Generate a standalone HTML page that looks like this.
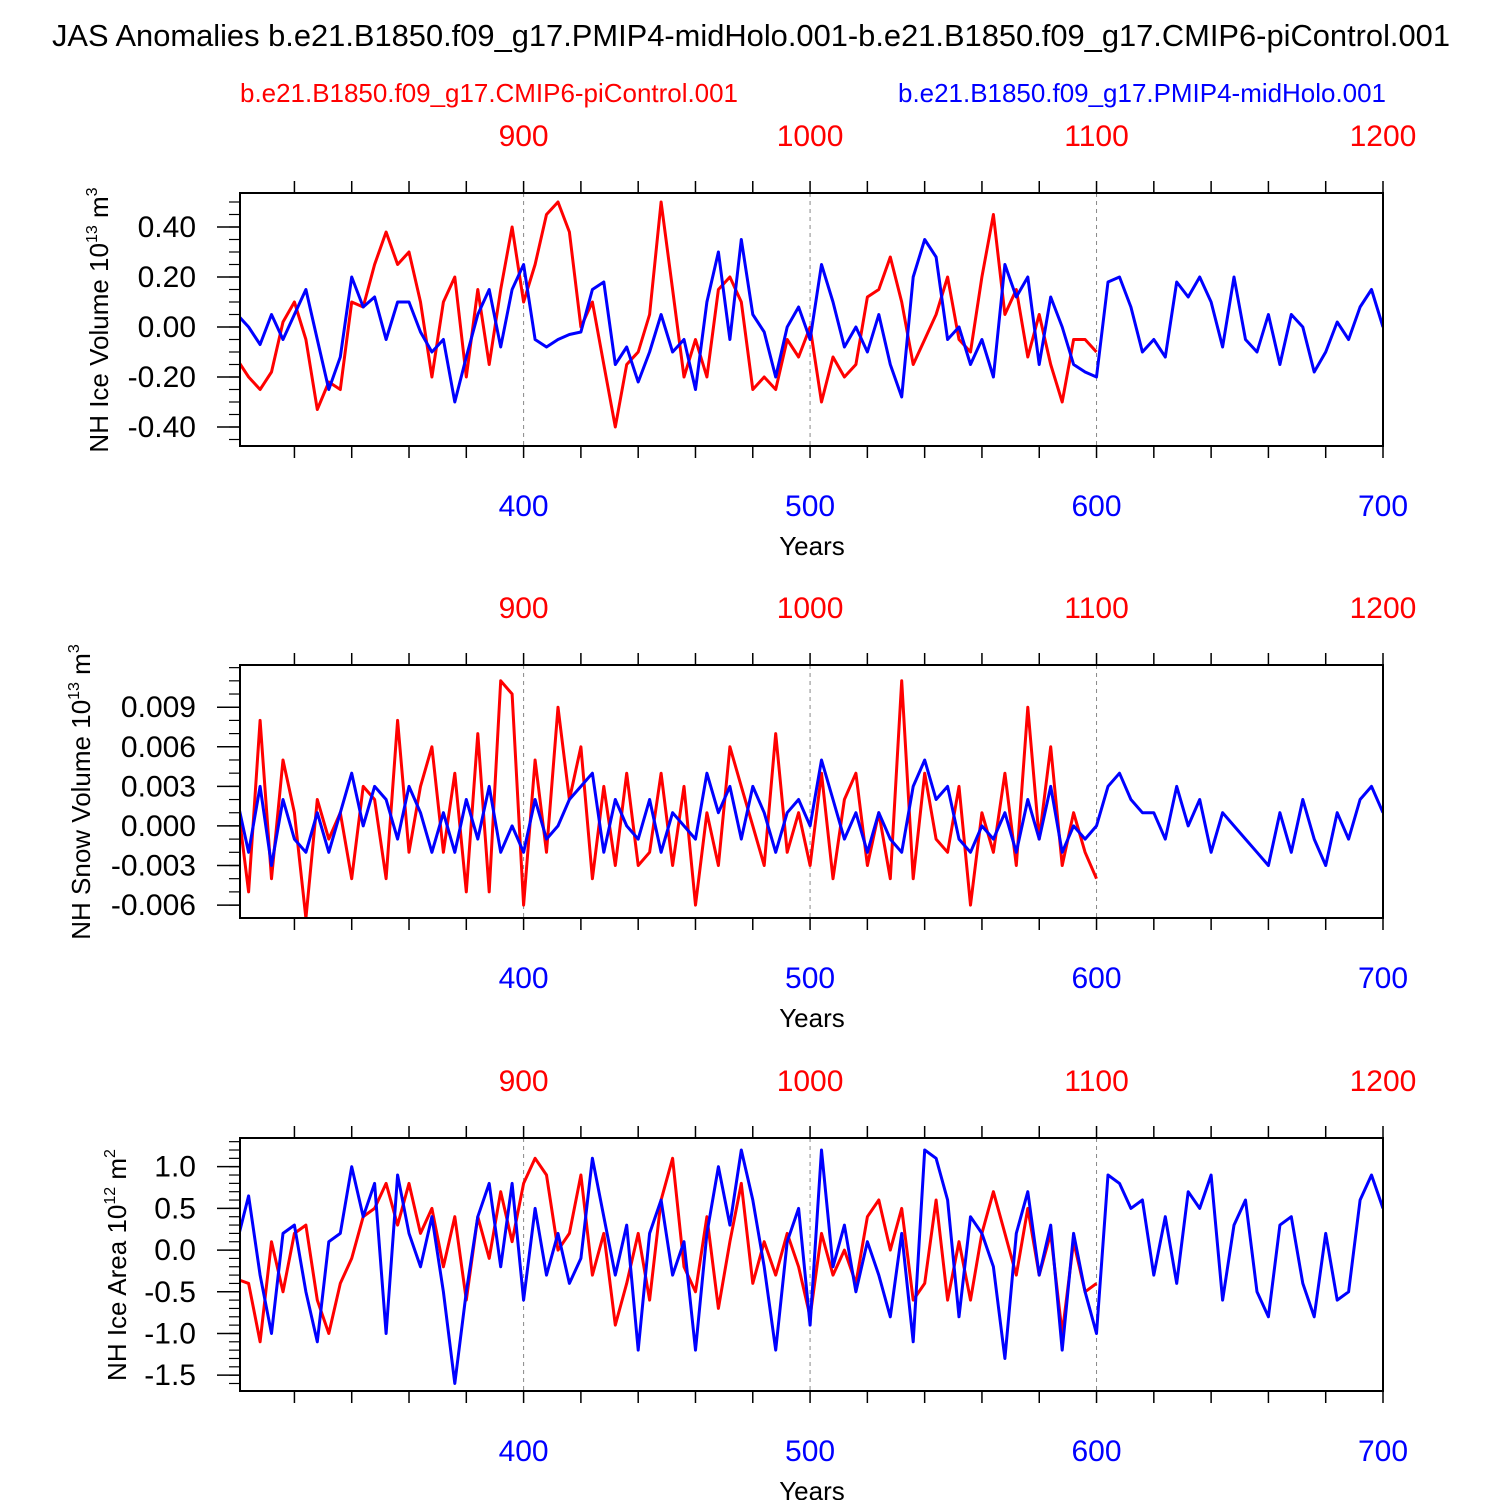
<!DOCTYPE html>
<html><head><meta charset="utf-8"><style>
body{margin:0;background:#fff;}
svg{display:block;font-family:"Liberation Sans",Arial,sans-serif;}
</style></head><body>
<svg id="c" width="1500" height="1500" viewBox="0 0 1500 1500">
<text x="751" y="46" text-anchor="middle" font-size="31" textLength="1398" lengthAdjust="spacingAndGlyphs">JAS Anomalies b.e21.B1850.f09_g17.PMIP4-midHolo.001-b.e21.B1850.f09_g17.CMIP6-piControl.001</text>
<text x="240" y="102" font-size="26" fill="#f00" textLength="498" lengthAdjust="spacingAndGlyphs">b.e21.B1850.f09_g17.CMIP6-piControl.001</text>
<text x="898" y="102" font-size="26" fill="#00f" textLength="488" lengthAdjust="spacingAndGlyphs">b.e21.B1850.f09_g17.PMIP4-midHolo.001</text>
</svg>
<script>
// Blue (midHolo) years 300..700 step 4; red (piControl) years 800..1100 step 4
const blueStart = 300, redStart = 800, yearStep = 4;
const bottomTicks = [400, 500, 600, 700];
const topTicks = [900, 1000, 1100, 1200];

const iceVolBlue = [0.05,0.0,-0.07,0.05,-0.05,0.05,0.15,-0.05,-0.25,-0.12,
0.2,0.08,0.12,-0.05,0.1,0.1,-0.02,-0.1,-0.05,-0.3,
-0.12,0.05,0.15,-0.08,0.15,0.25,-0.05,-0.08,-0.05,-0.03,
-0.02,0.15,0.18,-0.15,-0.08,-0.22,-0.1,0.05,-0.1,-0.05,
-0.25,0.1,0.3,-0.05,0.35,0.05,-0.02,-0.2,0.0,0.08,
-0.05,0.25,0.1,-0.08,0.0,-0.1,0.05,-0.15,-0.28,0.2,
0.35,0.28,-0.05,0.0,-0.15,-0.05,-0.2,0.25,0.12,0.2,
-0.15,0.12,0.0,-0.15,-0.18,-0.2,0.18,0.2,0.08,-0.1,
-0.05,-0.12,0.18,0.12,0.2,0.1,-0.08,0.2,-0.05,-0.1,
0.05,-0.15,0.05,0.0,-0.18,-0.1,0.02,-0.05,0.08,0.15,0.0];
const iceVolRed = [-0.13,-0.2,-0.25,-0.18,0.02,0.1,-0.05,-0.33,-0.22,-0.25,
0.1,0.08,0.25,0.38,0.25,0.3,0.1,-0.2,0.1,0.2,
-0.2,0.15,-0.15,0.15,0.4,0.1,0.25,0.45,0.5,0.38,
0.0,0.1,-0.15,-0.4,-0.15,-0.1,0.05,0.5,0.15,-0.2,
-0.05,-0.2,0.15,0.2,0.1,-0.25,-0.2,-0.25,-0.05,-0.12,
0.0,-0.3,-0.12,-0.2,-0.15,0.12,0.15,0.28,0.1,-0.15,
-0.05,0.05,0.2,-0.05,-0.1,0.2,0.45,0.05,0.15,-0.12,
0.05,-0.15,-0.3,-0.05,-0.05,-0.1];
const snowBlue = [0.002,-0.002,0.003,-0.003,0.002,-0.001,-0.002,0.001,-0.002,0.001,
0.004,0.000,0.003,0.002,-0.001,0.003,0.001,-0.002,0.001,-0.002,
0.002,-0.001,0.003,-0.002,0.000,-0.002,0.002,-0.001,0.000,0.002,
0.003,0.004,-0.002,0.002,0.000,-0.001,0.002,-0.002,0.001,0.000,
-0.001,0.004,0.001,0.003,-0.001,0.003,0.001,-0.002,0.001,0.002,
0.000,0.005,0.002,-0.001,0.001,-0.002,0.001,-0.001,-0.002,0.003,
0.005,0.002,0.003,-0.001,-0.002,0.000,-0.001,0.001,-0.002,0.002,
-0.001,0.003,-0.002,0.000,-0.001,0.000,0.003,0.004,0.002,0.001,
0.001,-0.001,0.003,0.000,0.002,-0.002,0.001,0.000,-0.001,-0.002,
-0.003,0.001,-0.002,0.002,-0.001,-0.003,0.001,-0.001,0.002,0.003,0.001];
const snowRed = [0.002,-0.005,0.008,-0.004,0.005,0.001,-0.007,0.002,-0.001,0.001,
-0.004,0.003,0.002,-0.004,0.008,-0.002,0.003,0.006,-0.002,0.004,
-0.005,0.007,-0.005,0.011,0.010,-0.006,0.005,-0.002,0.009,0.002,
0.006,-0.004,0.003,-0.003,0.004,-0.003,-0.002,0.004,-0.003,0.003,
-0.006,0.001,-0.003,0.006,0.003,0.000,-0.003,0.007,-0.002,0.001,
-0.003,0.004,-0.004,0.002,0.004,-0.003,0.001,-0.004,0.011,-0.004,
0.004,-0.001,-0.002,0.003,-0.006,0.001,-0.002,0.004,-0.003,0.009,
-0.001,0.006,-0.003,0.001,-0.002,-0.004];
const areaBlue = [0.1,0.65,-0.3,-1.0,0.2,0.3,-0.5,-1.1,0.1,0.2,
1.0,0.4,0.8,-1.0,0.9,0.2,-0.2,0.4,-0.5,-1.6,
-0.5,0.4,0.8,-0.2,0.8,-0.6,0.5,-0.3,0.2,-0.4,
-0.1,1.1,0.4,-0.3,0.3,-1.2,0.2,0.6,-0.3,0.1,
-1.2,0.2,1.0,0.3,1.2,0.6,-0.2,-1.2,0.1,0.5,
-0.9,1.2,-0.2,0.3,-0.5,0.1,-0.3,-0.8,0.2,-1.1,
1.2,1.1,0.6,-0.8,0.4,0.2,-0.2,-1.3,0.2,0.7,
-0.3,0.3,-1.2,0.2,-0.5,-1.0,0.9,0.8,0.5,0.6,
-0.3,0.4,-0.4,0.7,0.5,0.9,-0.6,0.3,0.6,-0.5,
-0.8,0.3,0.4,-0.4,-0.8,0.2,-0.6,-0.5,0.6,0.9,0.5];
const areaRed = [-0.35,-0.4,-1.1,0.1,-0.5,0.2,0.3,-0.6,-1.0,-0.4,
-0.1,0.4,0.5,0.8,0.3,0.8,0.2,0.5,-0.2,0.4,
-0.6,0.4,-0.1,0.7,0.1,0.8,1.1,0.9,0.0,0.2,
0.9,-0.3,0.2,-0.9,-0.4,0.2,-0.6,0.6,1.1,-0.2,
-0.5,0.4,-0.7,0.1,0.8,-0.4,0.1,-0.3,0.2,-0.2,
-0.8,0.2,-0.3,0.0,-0.4,0.4,0.6,0.0,0.5,-0.6,
-0.4,0.6,-0.6,0.1,-0.6,0.2,0.7,0.2,-0.3,0.5,
-0.3,0.2,-1.0,0.1,-0.5,-0.4];

const ticks1 = [0.4,0.2,0,-0.2,-0.4], labels1 = ["0.40","0.20","0.00","-0.20","-0.40"];
const ticks2 = [0.009,0.006,0.003,0,-0.003,-0.006], labels2 = ["0.009","0.006","0.003","0.000","-0.003","-0.006"];
const ticks3 = [1,0.5,0,-0.5,-1,-1.5], labels3 = ["1.0","0.5","0.0","-0.5","-1.0","-1.5"];

const NS = "http://www.w3.org/2000/svg";
const svg = document.getElementById('c');
function mk(tag, attrs, parent){
  const e = document.createElementNS(NS, tag);
  for (const k in attrs) e.setAttribute(k, attrs[k]);
  (parent||svg).appendChild(e);
  return e;
}
const X0 = 240, X1 = 1383, Y0yr = 301, Y1yr = 700;
function xb(yr){ return X0 + (yr - Y0yr) * (X1 - X0) / (Y1yr - Y0yr); }

function panel(idx, top, ymin, ymax, minorStep, ticks, labels, blue, red, ylabel, ylabelY, exp, unit){
  const bot = top + 253;
  const ys = v => bot - (v - ymin) / (ymax - ymin) * (bot - top);
  const g = mk('g', {});
  
  
  const clipId = 'clip' + idx;
  const cp = mk('clipPath', {id: clipId}, g);
  mk('rect', {x: X0, y: top, width: X1 - X0, height: bot - top}, cp);
  [400,500,600].forEach(yr => {
    const l = mk('line', {x1: xb(yr), x2: xb(yr), y1: top, y2: bot, stroke: '#888', 'stroke-width': 1, 'stroke-dasharray': '4,4'}, g);
    
    
  });
  for (let yr = 320; yr <= 700; yr += 20) {
    const L = 12;
    mk('line', {x1: xb(yr), x2: xb(yr), y1: top - L, y2: top, stroke: '#000', 'stroke-width': 1.5}, g);
    mk('line', {x1: xb(yr), x2: xb(yr), y1: bot, y2: bot + L, stroke: '#000', 'stroke-width': 1.5}, g);
  }
  topTicks.forEach(t => {
    const tx = mk('text', {x: xb(t - 500), y: top - 47, 'text-anchor': 'middle', 'font-size': 30, fill: '#f00'}, g);
    tx.textContent = t;
    
    
  });
  bottomTicks.forEach(t => {
    const tx = mk('text', {x: xb(t), y: bot + 70, 'text-anchor': 'middle', 'font-size': 30, fill: '#00f'}, g);
    tx.textContent = t;
    
    
  });
  const yt = mk('text', {x: 812, y: bot + 109, 'text-anchor': 'middle', 'font-size': 26}, g);
  yt.textContent = 'Years';
  
  
  const n0 = Math.ceil(ymin / minorStep - 1e-6), n1 = Math.floor(ymax / minorStep + 1e-6);
  for (let n = n0; n <= n1; n++) {
    const y = ys(n * minorStep);
    mk('line', {x1: X0 - 11, x2: X0, y1: y, y2: y, stroke: '#000', 'stroke-width': 1.2}, g);
  }
  ticks.forEach((t, i) => {
    const y = ys(t);
    mk('line', {x1: X0 - 23, x2: X0, y1: y, y2: y, stroke: '#000', 'stroke-width': 1.5}, g);
    const tx = mk('text', {x: X0 - 44, y: y + 10, 'text-anchor': 'end', 'font-size': 30}, g);
    tx.textContent = labels[i];
    
    
  });
  const t = mk('text', {transform: `translate(${ylabel.x},${ylabelY}) rotate(-90)`, 'text-anchor': 'middle', 'font-size': 26}, g);
  
  
  t.appendChild(document.createTextNode(ylabel.text + ' 10'));
  const s1 = mk('tspan', {'font-size': 16, dy: -11}, t); s1.textContent = exp;
  const s2 = mk('tspan', {dy: 11}, t); s2.textContent = ' m';
  const s3 = mk('tspan', {'font-size': 16, dy: -11}, t); s3.textContent = unit;
  const pts = (arr, start) => arr.map((v, i) => xb(start + i * yearStep).toFixed(1) + ',' + ys(v).toFixed(1)).join(' ');
  const pr = mk('polyline', {points: pts(red, redStart - 500), fill: 'none', stroke: '#f00', 'stroke-width': 3, 'stroke-linejoin': 'round', 'clip-path': `url(#${clipId})`}, g);
  
  
  const pb = mk('polyline', {points: pts(blue, blueStart), fill: 'none', stroke: '#00f', 'stroke-width': 3, 'stroke-linejoin': 'round', 'clip-path': `url(#${clipId})`}, g);
  
  
  const box = mk('rect', {x: X0, y: top, width: X1 - X0, height: bot - top, fill: 'none', stroke: '#000', 'stroke-width': 2}, g);
  
  
}
panel(1, 193, -0.476, 0.536, 0.05, ticks1, labels1, iceVolBlue, iceVolRed, {x: 108, text: 'NH Ice Volume'}, 320, '13', '3');
panel(2, 665, -0.00698, 0.0122, 0.001, ticks2, labels2, snowBlue, snowRed, {x: 90, text: 'NH Snow Volume'}, 792, '13', '3');
panel(3, 1138, -1.69, 1.344, 0.1, ticks3, labels3, areaBlue, areaRed, {x: 126, text: 'NH Ice Area'}, 1265, '12', '2');
</script>
</body></html>
